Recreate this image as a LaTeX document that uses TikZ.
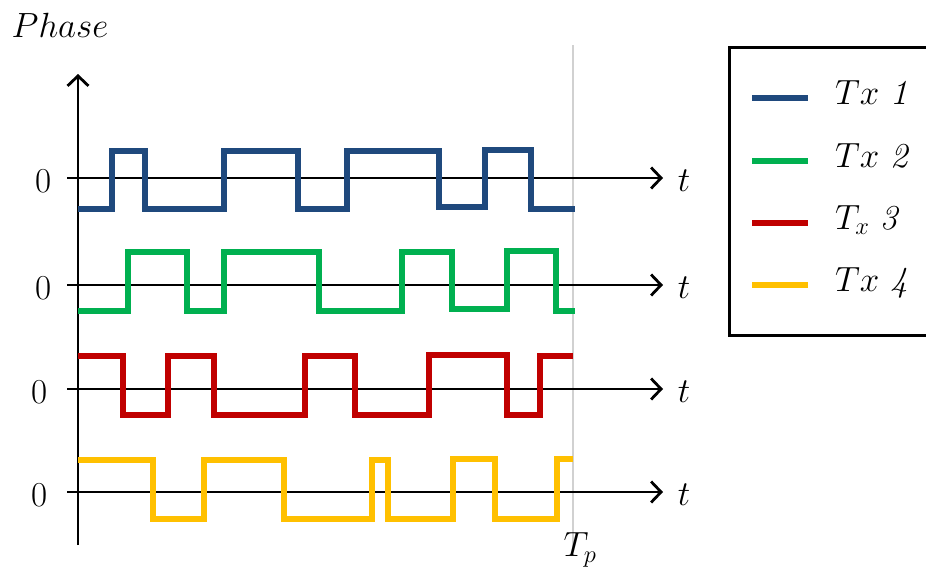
\RequirePackage{fix-cm}
\documentclass[tikz,border=0pt]{standalone}
\usetikzlibrary{arrows.meta}
\definecolor{txblue}{RGB}{31,73,125}
\definecolor{txgreen}{RGB}{0,176,80}
\definecolor{txred}{RGB}{192,0,0}
\definecolor{txyellow}{RGB}{255,192,0}
\tikzset{
  axis/.style={line width=2.8pt, -{Straight Barb[length=10pt,width=21pt,line width=2.8pt]}},
  wave/.style={line width=5.2pt},
  lbl/.style={inner sep=0pt, font=\fontsize{35}{40}\selectfont},
}
\begin{document}
\begin{tikzpicture}[x=1pt,y=-1pt]
\clip (0,0) rectangle (926,574);
\useasboundingbox (0,0) rectangle (926,574);
% period marker
\coordinate (tptop) at (573,45);
\coordinate (tpbot) at (573,548);
\draw[line width=2.4pt, black!18] (tptop) -- (tpbot);
% vertical axis
\coordinate (vbot) at (78,545);
\coordinate (vtop) at (78,74);
\draw[axis] (vbot) -- (vtop);
\node[lbl, anchor=base] (phase) at (60,37) {$Phase$};
% horizontal axes
\foreach \i/\yy/\zx in {1/178/44, 2/285/44, 3/389/40, 4/492/40} {
  \coordinate (hs\i) at (67,\yy);
  \coordinate (he\i) at (663,\yy);
  \draw[axis] (hs\i) -- (he\i);
  \node[lbl] (zero\i) at (\zx,\yy+3) {0};
  \node[lbl] (t\i) at (684,\yy+3) {$t$};
}
\node[lbl] (tp) at (580,550) {$T_p$};
% waveforms
\draw[wave, txblue] (78,209) -| (112,151) -| (145,209) -| (224,151) -| (298,209) -| (347,151) -| (439,207) -| (485,150) -| (531,209) -- (575,209);
\draw[wave, txgreen] (78,311) -| (128,252) -| (187,311) -| (224,252) -| (319,311) -| (402,252) -| (452,309) -| (507,251) -| (556,311) -- (575,311);
\draw[wave, txred] (78,356) -| (123,415) -| (168,356) -| (214,415) -| (305,356) -| (355,415) -| (429,355) -| (507,415) -| (540,356) -- (573,356);
\draw[wave, txyellow] (78,460) -| (153,519) -| (204,460) -| (284,519) -| (372,460) -| (388,519) -| (453,459) -| (495,519) -| (557,459) -- (573,459);
% legend
\draw[line width=3pt] (729,47) rectangle (945,335);
\foreach \i/\yy/\col/\txt in {1/98/txblue/{$Tx\ \mathit{1}$}, 2/161/txgreen/{$Tx\ \mathit{2}$}, 3/223/txred/{$T_x\ \mathit{3}$}, 4/285/txyellow/{$Tx\ \mathit{4}$}} {
  \coordinate (ls\i) at (752,\yy);
  \coordinate (le\i) at (808,\yy);
  \draw[line width=5.2pt, \col] (ls\i) -- (le\i);
  \node[lbl, anchor=base west] (leg\i) at (835,\yy+6) {\txt};
}
\end{tikzpicture}
\end{document}
